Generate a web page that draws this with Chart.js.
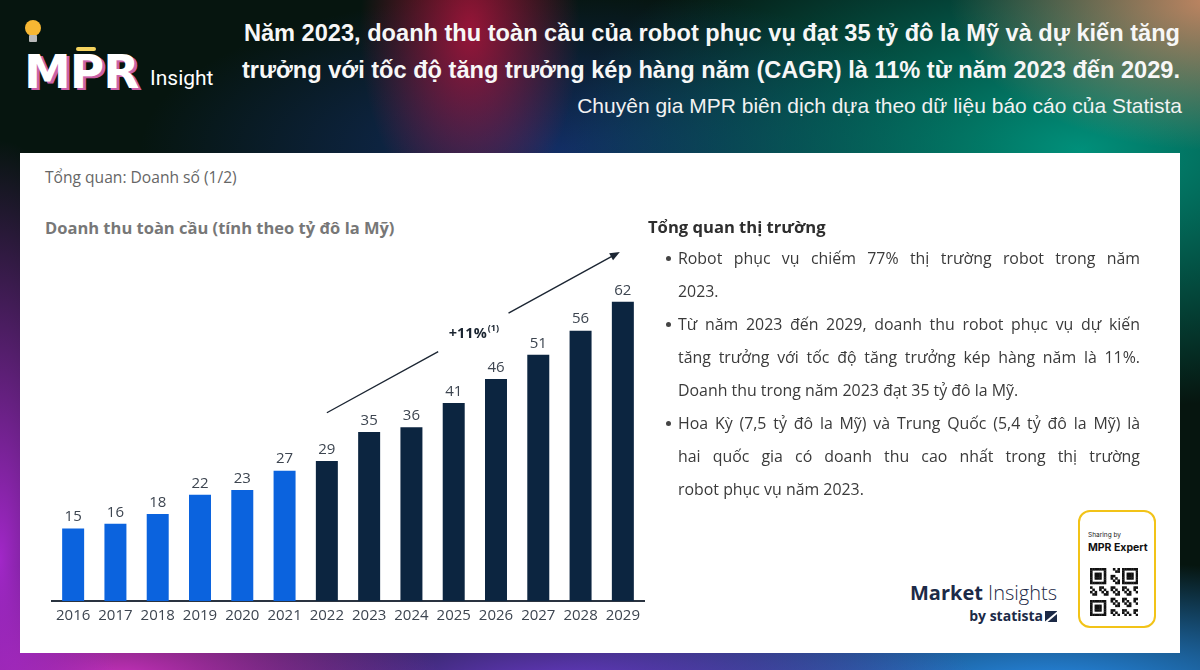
<!DOCTYPE html>
<html lang="vi">
<head>
<meta charset="utf-8">
<script src="https://cdn.jsdelivr.net/npm/chart.js@4/dist/chart.umd.min.js"></script>
<style>
  html, body { margin: 0; padding: 0; }
  body {
    width: 1200px; height: 670px; position: relative; overflow: hidden;
    font-family: "Liberation Sans", Arial, sans-serif;
    background:
      radial-gradient(ellipse 110px 190px at 470px 30px, rgba(175,20,60,0.85), rgba(175,20,60,0)),
      radial-gradient(ellipse 260px 150px at 1210px 0px, rgba(225,145,105,0.85), rgba(225,145,105,0)),
      radial-gradient(ellipse 520px 260px at 1080px 150px, rgba(0,150,128,0.95), rgba(0,150,128,0)),
      radial-gradient(ellipse 420px 160px at 560px 150px, rgba(20,50,115,0.85), rgba(20,50,115,0)),
      radial-gradient(ellipse 120px 420px at 0px 560px, rgba(170,40,210,0.95), rgba(170,40,210,0)),
      radial-gradient(ellipse 320px 120px at 120px 680px, rgba(210,50,200,0.95), rgba(210,50,200,0)),
      radial-gradient(ellipse 420px 120px at 560px 690px, rgba(110,60,210,0.95), rgba(110,60,210,0)),
      radial-gradient(ellipse 520px 130px at 1050px 690px, rgba(40,140,235,1), rgba(40,140,235,0)),
      #06150f;
  }
  .abs { position: absolute; }
  #title {
    right: 20px; top: 15px; width: 1000px; text-align: right;
    color: #f7f7f7; font-weight: bold; font-size: 23.6px; line-height: 37px; white-space: nowrap;
  }
  #subtitle {
    right: 18px; top: 94px; color: #f2f2f2; font-size: 21px; white-space: nowrap;
  }
  #logo-mpr {
    left: 24px; top: 44px; color: #fff; font-family: "DejaVu Sans", sans-serif;
    font-weight: bold; font-size: 47px; letter-spacing: -1px;
    text-shadow: 3px 2px 0 rgba(230,110,190,0.9);
  }
  #logo-ins { left: 150px; top: 66px; color: #fff; font-size: 21px; font-family: Roboto, sans-serif; }
  #bulb { left: 25px; top: 20px; width: 16px; height: 16px; border-radius: 50%; background: #f7b733; }
  #bulb-base { left: 29px; top: 35px; width: 8px; height: 7px; background: #b9b9b9; border-radius: 1px; }
  #pbar { left: 76px; top: 47px; width: 20px; height: 4px; background: #f4d35e; border-radius: 2px; }
  #card { left: 20px; top: 153px; width: 1160px; height: 500px; background: #fff; }
  #crumb { left: 45px; top: 166px; font-family: "Open Sans", sans-serif; font-size: 15.6px; color: #666; }
  #ctitle { left: 45px; top: 216px; font-family: "Open Sans", sans-serif; font-size: 16.5px; font-weight: bold; color: #777; }
  #chartbox { left: 40px; top: 230px; width: 620px; height: 404px; }
  #panel { left: 648px; top: 214px; width: 492px; font-family: "Open Sans", sans-serif; color: #3a3a3a; }
  #panel h3 { margin: 0 0 2px 0; font-size: 16.6px; font-weight: bold; color: #2e2e2e; line-height: 26px; }
  #panel ul { margin: 0; padding: 0 0 0 30px; list-style: none; }
  #panel li { position: relative; font-size: 15.9px; line-height: 33px; }
  #panel li::before { content: ""; position: absolute; left: -12px; top: 14px; width: 5px; height: 5px; border-radius: 50%; background: #444; }
  #panel .j { text-align: justify; text-align-last: justify; }
  #mi { left: 900px; top: 580px; width: 157px; text-align: right; font-family: "Open Sans", sans-serif; color: #1c2a47; }
  #mi .a { font-size: 20px; line-height: 26px; white-space: nowrap; }
  #mi .b { font-size: 14px; font-weight: bold; line-height: 20px; }
  #mi .icon { display: inline-block; width: 12px; height: 11px; background: #1c2a47; vertical-align: -1px; margin-left: 2px; position: relative; overflow: hidden; }
  #mi .icon::after { content: ""; position: absolute; left: -3px; top: 5px; width: 20px; height: 2px; background: #fff; transform: rotate(-40deg); }
  #qrbox { left: 1078px; top: 510px; width: 74px; height: 114px; border: 2px solid #f2c318; border-radius: 12px; background: #fff; }
  #qr-s { left: 1088px; top: 531px; font-family: Inter, sans-serif; font-size: 6.5px; color: #222; }
  #qr-t { left: 1088px; top: 541px; font-family: Inter, sans-serif; font-size: 10.5px; font-weight: bold; color: #111; }
  #qr { left: 1090px; top: 568px; }
</style>
</head>
<body>
<div class="abs" id="title">Năm 2023, doanh thu toàn cầu của robot phục vụ đạt 35 tỷ đô la Mỹ và dự kiến tăng<br>trưởng với tốc độ tăng trưởng kép hàng năm (CAGR) là 11% từ năm 2023 đến 2029.</div>
<div class="abs" id="subtitle">Chuyên gia MPR biên dịch dựa theo dữ liệu báo cáo của Statista</div>
<div class="abs" id="bulb"></div>
<div class="abs" id="bulb-base"></div>
<div class="abs" id="logo-mpr">MPR</div>
<div class="abs" id="pbar"></div>
<div class="abs" id="logo-ins">Insight</div>

<div class="abs" id="card"></div>
<div class="abs" id="crumb">Tổng quan: Doanh số (1/2)</div>
<div class="abs" id="ctitle">Doanh thu toàn cầu (tính theo tỷ đô la Mỹ)</div>
<div class="abs" id="chartbox"><canvas id="revenueChart" width="620" height="404"></canvas></div>

<div class="abs" id="panel">
  <h3>Tổng quan thị trường</h3>
  <ul>
    <li><div class="j">Robot phục vụ chiếm 77% thị trường robot trong năm</div><div>2023.</div></li>
    <li><div class="j">Từ năm 2023 đến 2029, doanh thu robot phục vụ dự kiến</div><div class="j">tăng trưởng với tốc độ tăng trưởng kép hàng năm là 11%.</div><div>Doanh thu trong năm 2023 đạt 35 tỷ đô la Mỹ.</div></li>
    <li><div class="j">Hoa Kỳ (7,5 tỷ đô la Mỹ) và Trung Quốc (5,4 tỷ đô la Mỹ) là</div><div class="j">hai quốc gia có doanh thu cao nhất trong thị trường</div><div>robot phục vụ năm 2023.</div></li>
  </ul>
</div>

<div class="abs" id="mi">
  <div class="a"><b>Market</b> <span style="font-weight:300">Insights</span></div>
  <div class="b">by statista<span class="icon"></span></div>
</div>
<div class="abs" id="qrbox"></div>
<div class="abs" id="qr-s">Sharing by</div>
<div class="abs" id="qr-t">MPR Expert</div>
<canvas class="abs" id="qr" width="48" height="48"></canvas>

<script>
// Doanh thu robot phục vụ toàn cầu (tỷ USD)
const years = ['2016', '2017', '2018', '2019', '2020', '2021', '2022',
               '2023', '2024', '2025', '2026', '2027', '2028', '2029'];
const revenue = [15, 16, 18, 22, 23, 27, 29, 35, 36, 41, 46, 51, 56, 62];
const lastBlueYear = '2021';
const cagrText = '+11%';
const cagrNote = '(1)';

const blue = '#0b63de';
const navy = '#0c2540';
const barColors = years.map(y => (y <= lastBlueYear ? blue : navy));

// nhãn giá trị phía trên cột
const valueLabels = {
  id: 'valueLabels',
  afterDatasetsDraw(chart) {
    const ctx = chart.ctx;
    const meta = chart.getDatasetMeta(0);
    ctx.save();
    ctx.font = '15px "Open Sans", sans-serif';
    ctx.fillStyle = '#3d4550';
    ctx.textAlign = 'center';
    ctx.textBaseline = 'bottom';
    meta.data.forEach((bar, i) => {
      ctx.fillText(String(revenue[i]), bar.x, bar.y - 4);
    });
    ctx.restore();
  }
};

// mũi tên CAGR
const cagrArrow = {
  id: 'cagrArrow',
  afterDatasetsDraw(chart) {
    const { ctx, scales: { x, y } } = chart;
    const x0 = x.getPixelForValue(6), y0 = y.getPixelForValue(39);
    const x1 = x.getPixelForValue(13) - 3, y1 = y.getPixelForValue(72.3);
    const mx = (x0 + x1) / 2, my = (y0 + y1) / 2;
    const gap = 0.12;
    const lerp = t => [x0 + (x1 - x0) * t, y0 + (y1 - y0) * t];
    ctx.save();
    ctx.strokeStyle = '#1c2633';
    ctx.lineWidth = 1.4;
    ctx.beginPath();
    ctx.moveTo(x0, y0);
    ctx.lineTo(...lerp(0.5 - gap));
    ctx.moveTo(...lerp(0.5 + gap));
    ctx.lineTo(...lerp(0.985));
    ctx.stroke();
    // đầu mũi tên
    const ang = Math.atan2(y1 - y0, x1 - x0);
    ctx.fillStyle = '#1c2633';
    ctx.beginPath();
    ctx.moveTo(x1, y1);
    ctx.lineTo(x1 - 10 * Math.cos(ang) + 4 * Math.sin(ang), y1 - 10 * Math.sin(ang) - 4 * Math.cos(ang));
    ctx.lineTo(x1 - 10 * Math.cos(ang) - 4 * Math.sin(ang), y1 - 10 * Math.sin(ang) + 4 * Math.cos(ang));
    ctx.closePath();
    ctx.fill();
    // nhãn
    ctx.font = 'bold 14.5px "Open Sans", sans-serif';
    const w1 = ctx.measureText(cagrText).width;
    ctx.font = 'bold 9px "Open Sans", sans-serif';
    const w2 = ctx.measureText(cagrNote).width;
    const left = mx - (w1 + w2) / 2;
    ctx.fillStyle = '#1a2430';
    ctx.textBaseline = 'middle';
    ctx.textAlign = 'left';
    ctx.font = 'bold 14.5px "Open Sans", sans-serif';
    ctx.fillText(cagrText, left, my + 1);
    ctx.font = 'bold 9px "Open Sans", sans-serif';
    ctx.fillText(cagrNote, left + w1 + 1, my - 4);
    ctx.restore();
  }
};

new Chart(document.getElementById('revenueChart'), {
  type: 'bar',
  data: {
    labels: years,
    datasets: [{
      data: revenue,
      backgroundColor: barColors,
      borderWidth: 0,
      categoryPercentage: 1,
      barPercentage: 0.52
    }]
  },
  options: {
    responsive: false,
    devicePixelRatio: 1,
    animation: false,
    layout: { padding: { left: 12, right: 16, top: 9, bottom: 3 } },
    scales: {
      x: {
        grid: { display: false, drawTicks: false },
        border: { display: true, color: '#2a3340', width: 2 },
        ticks: { color: '#3d4550', font: { family: '"Open Sans", sans-serif', size: 15 }, padding: 6, maxRotation: 0 }
      },
      y: { display: false, min: 0, max: 75 }
    },
    plugins: { legend: { display: false }, tooltip: { enabled: false } }
  },
  plugins: [valueLabels, cagrArrow]
});

// mã QR trang trí
(function () {
  const c = document.getElementById('qr').getContext('2d');
  const n = 21, s = 48 / n;
  c.fillStyle = '#fff';
  c.fillRect(0, 0, 48, 48);
  c.fillStyle = '#111';
  const finder = (r, k) => (r >= 0 && r < 7 && k >= 0 && k < 7) &&
    (r === 0 || r === 6 || k === 0 || k === 6 || (r >= 2 && r <= 4 && k >= 2 && k <= 4));
  for (let r = 0; r < n; r++) {
    for (let k = 0; k < n; k++) {
      let on;
      if (r < 8 && k < 8) on = finder(r, k);
      else if (r < 8 && k >= n - 8) on = finder(r, k - (n - 7));
      else if (r >= n - 8 && k < 8) on = finder(r - (n - 7), k);
      else on = ((r * 7 + k * 13 + r * k) % 5) < 2;
      if (on) c.fillRect(k * s, r * s, s + 0.3, s + 0.3);
    }
  }
})();
</script>
</body>
</html>
